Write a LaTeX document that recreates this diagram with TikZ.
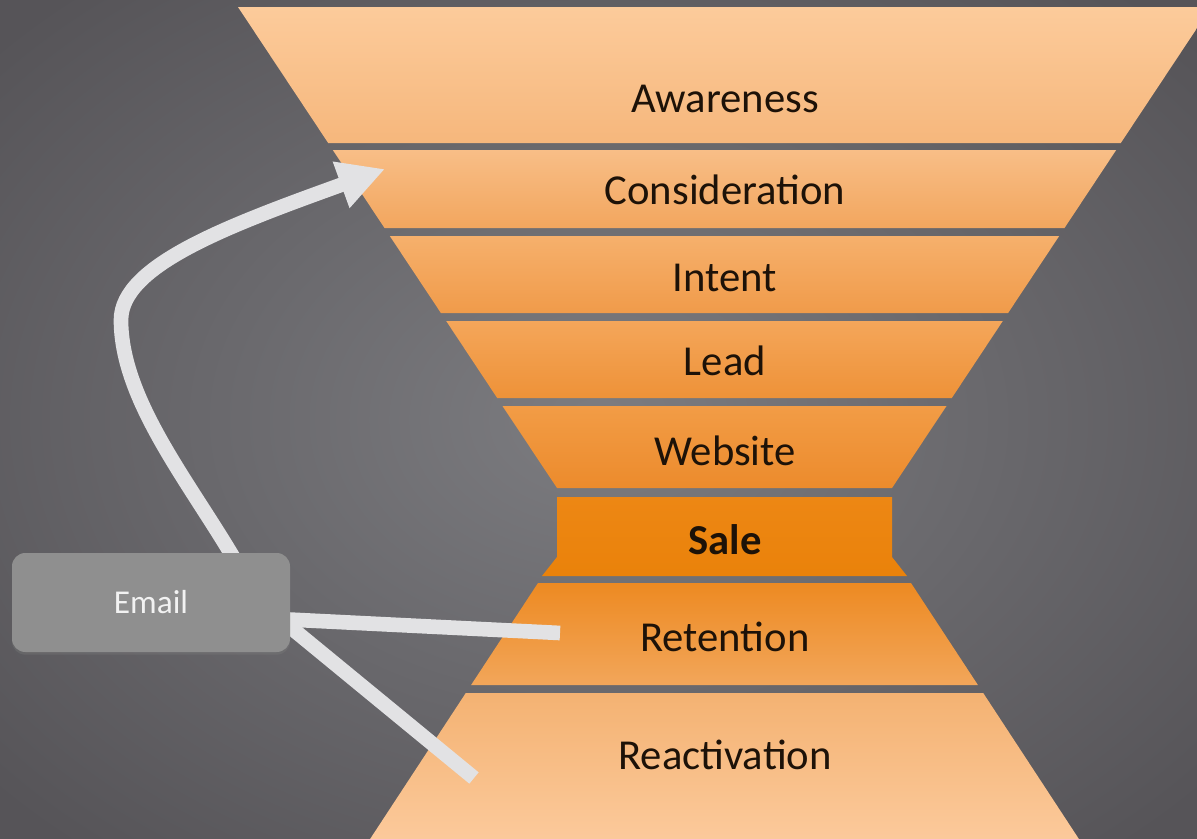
\documentclass[tikz,border=0pt]{standalone}
\usepackage{fontspec}
\setmainfont{Carlito}
\usetikzlibrary{arrows.meta,shadows}

\definecolor{bgin}{RGB}{124,124,128}
\definecolor{bgout}{RGB}{86,84,88}
\definecolor{linkgray}{RGB}{226,226,228}
\definecolor{boxgray}{RGB}{143,143,143}
\definecolor{stagetext}{RGB}{29,18,8}
\definecolor{awaretop}{RGB}{252,203,155}
\definecolor{awarebot}{RGB}{246,183,124}
\definecolor{considtop}{RGB}{248,190,135}
\definecolor{considbot}{RGB}{242,166,94}
\definecolor{intenttop}{RGB}{246,176,108}
\definecolor{intentbot}{RGB}{240,155,74}
\definecolor{leadtop}{RGB}{244,166,90}
\definecolor{leadbot}{RGB}{238,146,56}
\definecolor{webtop}{RGB}{242,156,70}
\definecolor{webbot}{RGB}{236,139,44}
\definecolor{saletop}{RGB}{237,135,20}
\definecolor{salebot}{RGB}{234,130,10}
\definecolor{rettop}{RGB}{237,138,34}
\definecolor{retbot}{RGB}{242,166,90}
\definecolor{reacttop}{RGB}{244,178,114}
\definecolor{reactbot}{RGB}{252,203,158}

\pgfdeclarelayer{back}
\pgfdeclarelayer{links}
\pgfsetlayers{back,links,main}

\begin{document}
\begin{tikzpicture}[x=0.75pt,y=0.75pt,yscale=-1,xscale=1,
	stage/.style={anchor=base,inner sep=0.75pt,text=stagetext,font=\fontsize{32}{38}\selectfont},
	link/.style={draw=linkgray,line width=11pt},
	emailbox/.style={fill=boxgray,rounded corners=10pt,minimum width=208.5pt,minimum height=74.25pt,
		text={rgb,255:red,242;green,242;blue,242},font=\fontsize{25}{30}\selectfont,
		drop shadow={shadow xshift=0pt,shadow yshift=-2pt,opacity=0.3}}]
\useasboundingbox (0,0) rectangle (1197,839);

\begin{pgfonlayer}{back}
	\clip (0,0) rectangle (1197,839);
	%Background
	\shade [inner color=bgin,outer color=bgout] (-200,-150) rectangle (1397,989);

	%Shape: Awareness
	\shade [top color=awaretop,bottom color=awarebot] (238,7) -- (1211,7) -- (1120.8,143) -- (328.2,143) -- cycle;
	%Shape: Consideration
	\shade [top color=considtop,bottom color=considbot] (332.8,150) -- (1116.2,150) -- (1064.5,228) -- (384.5,228) -- cycle;
	%Shape: Intent
	\shade [top color=intenttop,bottom color=intentbot] (389.8,236) -- (1059.2,236) -- (1008.1,313) -- (440.9,313) -- cycle;
	%Shape: Lead
	\shade [top color=leadtop,bottom color=leadbot] (446.2,321) -- (1002.8,321) -- (951.8,398) -- (497.2,398) -- cycle;
	%Shape: Website
	\shade [top color=webtop,bottom color=webbot] (502.5,406) -- (946.5,406) -- (892,488) -- (557,488) -- cycle;
	%Shape: Sale (neck)
	\shade [top color=saletop,bottom color=salebot] (557,497) -- (892,497) -- (892,557) -- (907,576) -- (542,576) -- (557,557) -- cycle;
	%Shape: Retention
	\shade [top color=rettop,bottom color=retbot] (538,583) -- (911,583) -- (977.9,685) -- (471.1,685) -- cycle;
	%Shape: Reactivation
	\shade [top color=reacttop,bottom color=reactbot] (465.8,693) -- (983.2,693) -- (1086.1,850) -- (362.9,850) -- cycle;
\end{pgfonlayer}

% Text Node
\node [stage] (aware) at (725,112) {Awareness};
% Text Node
\node [stage] (consid) at (725,204) {Consideration};
% Text Node
\node [stage] (intent) at (725,291) {Intent};
% Text Node
\node [stage] (lead) at (725,375) {Lead};
% Text Node
\node [stage] (web) at (725,465) {Website};
% Text Node
\node [stage,font=\fontsize{32}{38}\selectfont\bfseries] (sale) at (725,554) {Sale};
% Text Node
\node [stage] (ret) at (725,651) {Retention};
% Text Node
\node [stage] (react) at (725,769) {Reactivation};

%Shape: Rounded Rect
\node [emailbox] (email) at (151,602.5) {Email};

\coordinate (consid in) at (385,169);
\coordinate (ret in) at (560,633);
\coordinate (react in) at (474,778);

\begin{pgfonlayer}{links}
	%Curve Lines
	\draw [link,shorten <=-8pt,-{Triangle[length=35pt,width=34.5pt]}] (email.32) .. controls (190,483) and (121,400) .. (121,320) .. controls (121,265) and (230,225) .. (consid in);
	%Straight Lines
	\draw [link,shorten <=-8pt] (email.-7) -- (ret in);
	%Straight Lines
	\draw [link,shorten <=-8pt] (email.-10) -- (react in);
\end{pgfonlayer}

\end{tikzpicture}
\end{document}
